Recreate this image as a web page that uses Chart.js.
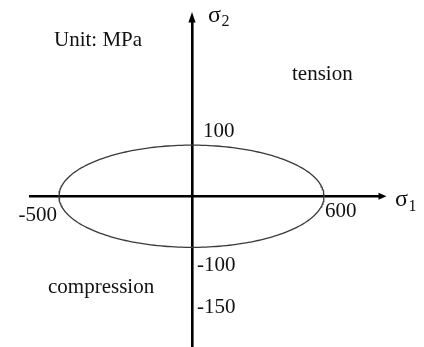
<!DOCTYPE html>
<html>
<head>
<meta charset="utf-8">
<script src="https://cdn.jsdelivr.net/npm/chart.js@4/dist/chart.umd.min.js"></script>
<style>
  html, body { margin: 0; padding: 0; background: #fff; }
  #wrap { width: 424px; height: 347px; }
</style>
</head>
<body>
<div id="wrap"><canvas id="c" width="424" height="347"></canvas></div>
<script>
// Failure envelope in the principal stress plane, values in MPa
const sigma1Strengths = [-500, 600];        // compressive / tensile limit along σ1
const sigma2Strengths = [-100, 100];        // compressive / tensile limit along σ2
const sigma1TickValues = [-500, 600];
const sigma2TickValues = [100, -100, -150];
const regionNames = ['tension', 'compression'];
const unitNote = 'Unit: MPa';

// Closed envelope: four quarter-ellipse arcs through the axis strengths
function envelopePoints(steps) {
  const pts = [];
  for (let i = 0; i <= steps; i++) {
    const t = (2 * Math.PI * i) / steps;
    const c = Math.cos(t), s = Math.sin(t);
    pts.push({
      x: c >= 0 ? c * sigma1Strengths[1] : -c * sigma1Strengths[0],
      y: s >= 0 ? s * sigma2Strengths[1] : -s * sigma2Strengths[0]
    });
  }
  return pts;
}

// Linear axis whose negative and positive halves have their own unit length
class SplitLinearScale extends Chart.LinearScale {
  getPixelForValue(value) {
    const z = this.options.zeroAt;
    const dec = value < 0 ? z * (1 - value / this.min) : z + (1 - z) * value / this.max;
    return this.getPixelForDecimal(dec);
  }
  getValueForPixel(pixel) {
    const z = this.options.zeroAt;
    const dec = this.getDecimalForPixel(pixel);
    return dec < z ? this.min * (1 - dec / z) : this.max * (dec - z) / (1 - z);
  }
}
SplitLinearScale.id = 'splitLinear';
SplitLinearScale.defaults = Chart.LinearScale.defaults;
Chart.register(SplitLinearScale);

const SERIF = '"Liberation Serif", "Times New Roman", serif';

// σ with a subscript index set right after it
function sigmaSymbol(ctx, index, left, baseline) {
  ctx.font = '24px ' + SERIF;
  ctx.fillText('σ', left, baseline);
  const w = ctx.measureText('σ').width;
  ctx.font = '16px ' + SERIF;
  ctx.fillText(index, left + w + 0.5, baseline + 4.5);
}

// Arrowheads, axis values, symbols and region names
const annotations = {
  id: 'annotations',
  afterDraw(chart) {
    const { ctx, chartArea: a, scales: { x, y } } = chart;
    const x0 = x.getPixelForValue(0);
    const y0 = y.getPixelForValue(0);
    ctx.save();
    ctx.fillStyle = '#000';

    ctx.beginPath();
    ctx.moveTo(x0, a.top - 10);
    ctx.lineTo(x0 - 3.6, a.top + 0.5);
    ctx.lineTo(x0 + 3.6, a.top + 0.5);
    ctx.closePath();
    ctx.fill();

    ctx.beginPath();
    ctx.moveTo(a.right + 7.5, y0);
    ctx.lineTo(a.right - 0.5, y0 - 3.4);
    ctx.lineTo(a.right - 0.5, y0 + 3.4);
    ctx.closePath();
    ctx.fill();

    ctx.fillStyle = '#111';
    ctx.textBaseline = 'alphabetic';
    ctx.font = '21px ' + SERIF;

    // σ1 values beside the envelope's intercepts
    const s1Style = [
      { align: 'right', dx: -2, dy: 24.5 },
      { align: 'left', dx: 1, dy: 20.5 }
    ];
    sigma1TickValues.forEach((v, i) => {
      ctx.textAlign = s1Style[i].align;
      ctx.fillText(String(v), x.getPixelForValue(v) + s1Style[i].dx, y0 + s1Style[i].dy);
    });

    // σ2 values right of the vertical axis
    const s2Style = [
      { dx: 11, dy: -8 },
      { dx: 5, dy: 23.5 },
      { dx: 5, dy: 40 }
    ];
    ctx.textAlign = 'left';
    sigma2TickValues.forEach((v, i) => {
      ctx.fillText(String(v), x0 + s2Style[i].dx, y.getPixelForValue(v) + s2Style[i].dy);
    });

    ctx.fillText(unitNote, 54, 46);
    ctx.fillText(regionNames[0], 292, 80);
    ctx.fillText(regionNames[1], 48, 293);

    // axis symbols
    sigmaSymbol(ctx, '1', a.right + 16, y0 + 10);
    sigmaSymbol(ctx, '2', x0 + 16, 21.7);
    ctx.restore();
  }
};

const axisBorder = { display: true, width: 2.6, color: '#000' };

new Chart(document.getElementById('c'), {
  type: 'scatter',
  data: {
    datasets: [{
      data: envelopePoints(240),
      showLine: true,
      borderColor: '#3a3a3a',
      borderWidth: 1.3,
      pointRadius: 0,
      fill: false,
      tension: 0,
      clip: false
    }]
  },
  options: {
    responsive: false,
    devicePixelRatio: 1,
    animation: false,
    events: [],
    layout: { padding: { left: 30, right: 45, top: 22, bottom: 0 } },
    plugins: { legend: { display: false }, tooltip: { enabled: false } },
    scales: {
      x: {
        type: 'splitLinear',
        min: -609,
        max: 850,
        zeroAt: 0.4642,
        position: { y: 0 },
        grid: { display: false, drawTicks: false },
        border: axisBorder,
        ticks: { display: false }
      },
      y: {
        type: 'linear',
        min: -295,
        max: 341,
        position: { x: 0 },
        grid: { display: false, drawTicks: false },
        border: axisBorder,
        ticks: { display: false }
      }
    }
  },
  plugins: [annotations]
});
</script>
</body>
</html>
